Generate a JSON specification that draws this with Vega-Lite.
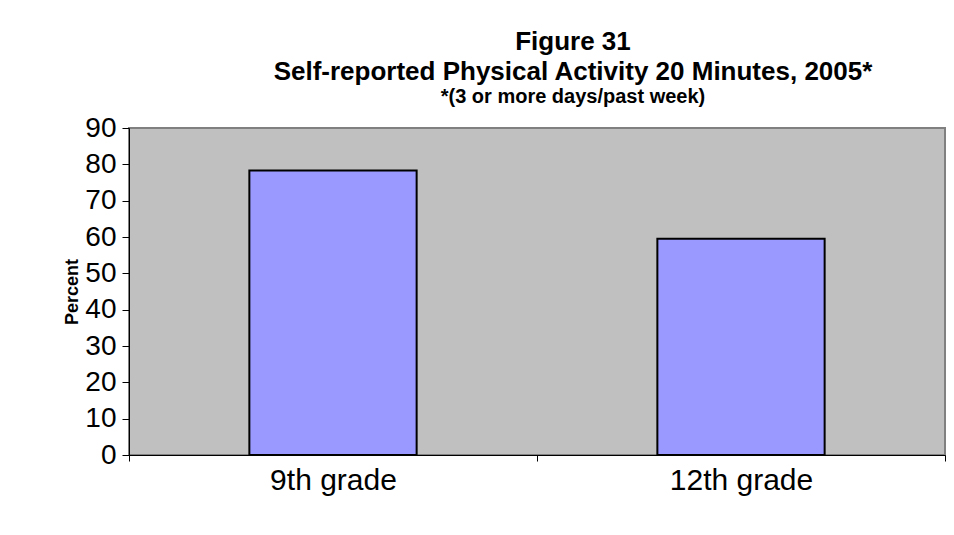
{
  "$schema": "https://vega.github.io/schema/vega-lite/v6.json",
  "autosize": "none",
  "padding": {"left": 129, "top": 128, "right": 9, "bottom": 80},
  "width": 816,
  "height": 327,
  "background": "white",
  "data": {"values": [
    {"grade": "9th grade", "percent": 78.3},
    {"grade": "12th grade", "percent": 59.5}
  ]},
  "title": {
    "text": ["Figure 31", "Self-reported Physical Activity 20 Minutes, 2005*"],
    "subtitle": "*(3 or more days/past week)",
    "anchor": "middle",
    "frame": "group",
    "dx": 36,
    "offset": 7,
    "font": "Liberation Sans",
    "fontSize": 26,
    "fontWeight": "bold",
    "lineHeight": 30,
    "color": "black",
    "subtitleFont": "Liberation Sans",
    "subtitleFontSize": 20,
    "subtitleFontWeight": "bold",
    "subtitleColor": "black",
    "subtitlePadding": 2
  },
  "mark": {"type": "bar", "fill": "#9999FF", "stroke": "black", "strokeWidth": 2, "width": {"band": 0.41}},
  "encoding": {
    "x": {
      "field": "grade",
      "type": "nominal",
      "sort": ["9th grade", "12th grade"],
      "scale": {"paddingInner": 0, "paddingOuter": 0},
      "axis": {
        "title": null,
        "labelAngle": 0,
        "labelFont": "Liberation Sans",
        "labelFontSize": 30,
        "labelColor": "black",
        "labelPadding": 4,
        "tickBand": "extent",
        "tickSize": 6,
        "tickColor": "black",
        "domainColor": "black",
        "domainWidth": 1
      }
    },
    "y": {
      "field": "percent",
      "type": "quantitative",
      "scale": {"domain": [0, 90], "nice": false},
      "axis": {
        "title": "Percent",
        "titleFont": "Liberation Sans",
        "titleFontSize": 18,
        "titleFontWeight": "bold",
        "titleColor": "black",
        "titlePadding": 3,
        "values": [0, 10, 20, 30, 40, 50, 60, 70, 80, 90],
        "labelFont": "Liberation Sans",
        "labelFontSize": 28,
        "labelColor": "black",
        "labelPadding": 6,
        "tickSize": 7,
        "tickColor": "black",
        "domainColor": "black",
        "grid": false
      }
    }
  },
  "config": {
    "view": {"fill": "#C0C0C0", "stroke": "#808080", "strokeWidth": 2}
  }
}
